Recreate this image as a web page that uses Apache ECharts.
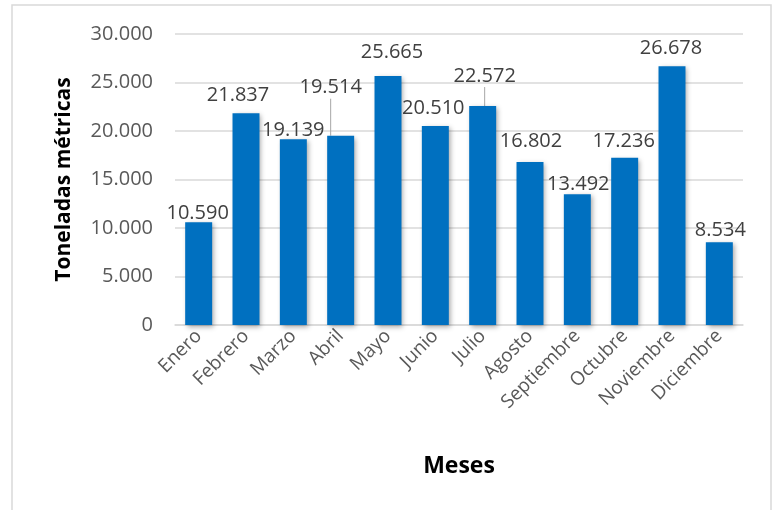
<!DOCTYPE html>
<html>
<head>
<meta charset="utf-8">
<script src="https://cdn.jsdelivr.net/npm/echarts@6/dist/echarts.min.js"></script>
<style>
  html, body { margin: 0; padding: 0; background: #fff; }
  #chart { width: 775px; height: 510px; }
</style>
</head>
<body>
<div id="chart"></div>
<script>
// Toneladas métricas por mes
const meses = ['Enero', 'Febrero', 'Marzo', 'Abril', 'Mayo', 'Junio', 'Julio',
  'Agosto', 'Septiembre', 'Octubre', 'Noviembre', 'Diciembre'];
const toneladas = [10590, 21837, 19139, 19514, 25665, 20510, 22572,
  16802, 13492, 17236, 26678, 8534];
const yTicks = [0, 5000, 10000, 15000, 20000, 25000, 30000];

// hand-placed label nudges [dx, rise above bar top], plus which get a guide line
const labelShift = [[-1, 9], [-8, 18], [0, 9], [-10, 48], [4, 24], [-2, 18],
  [2, 30], [1, 21], [1, 10], [-1, 17], [-1, 18], [1, 12]];
const guided = [3, 6];

// Spanish thousands separator (dot), also for 4-digit numbers
const fmt = v => String(Math.round(v)).replace(/\B(?=(\d{3})+(?!\d))/g, '.');

const FONT = 'Open Sans';
const chart = echarts.init(document.getElementById('chart'));

chart.setOption({
  animation: false,
  textStyle: { fontFamily: FONT },
  graphic: [{
    type: 'rect',
    shape: { x: 12, y: 5, width: 759, height: 510 },
    style: { fill: 'none', stroke: '#D9D9D9', lineWidth: 1.5 },
    silent: true
  }],
  grid: { left: 175, right: 32, top: 34, bottom: 185, containLabel: false },
  xAxis: {
    type: 'category',
    data: meses,
    name: 'Meses',
    nameLocation: 'middle',
    nameGap: 130,
    nameTextStyle: { fontFamily: FONT, fontSize: 23, fontWeight: 'bold', color: '#000' },
    axisLine: { lineStyle: { color: '#D9D9D9', width: 1.5 } },
    axisTick: { show: false },
    axisLabel: { rotate: 45, fontSize: 19, color: '#595959', margin: 8, interval: 0 }
  },
  yAxis: {
    type: 'value',
    min: yTicks[0],
    max: yTicks[yTicks.length - 1],
    interval: yTicks[1] - yTicks[0],
    name: 'Toneladas métricas',
    nameLocation: 'middle',
    nameGap: 100,
    nameTextStyle: { fontFamily: FONT, fontSize: 21, fontWeight: 'bold', color: '#000' },
    axisLine: { show: false },
    axisTick: { show: false },
    splitLine: { lineStyle: { color: '#D9D9D9', width: 1.5 } },
    axisLabel: { fontSize: 20, color: '#595959', margin: 22, formatter: fmt }
  },
  series: [{
    type: 'bar',
    data: toneladas.map((v, i) => ({
      value: v,
      labelLine: { show: guided.includes(i) }
    })),
    barWidth: '57%',
    itemStyle: {
      color: '#0070C0',
      shadowColor: 'rgba(0,0,0,0.35)',
      shadowBlur: 5,
      shadowOffsetX: 2,
      shadowOffsetY: 2
    },
    label: {
      show: true,
      position: 'top',
      distance: 0,
      fontSize: 20,
      lineHeight: 22,
      color: '#404040',
      formatter: p => fmt(p.value)
    },
    labelLine: { show: false, lineStyle: { color: '#A6A6A6', width: 1 } },
    labelLayout: p => ({
      dx: labelShift[p.dataIndex][0],
      dy: -(labelShift[p.dataIndex][1] - 11)
    })
  }]
});
</script>
</body>
</html>
